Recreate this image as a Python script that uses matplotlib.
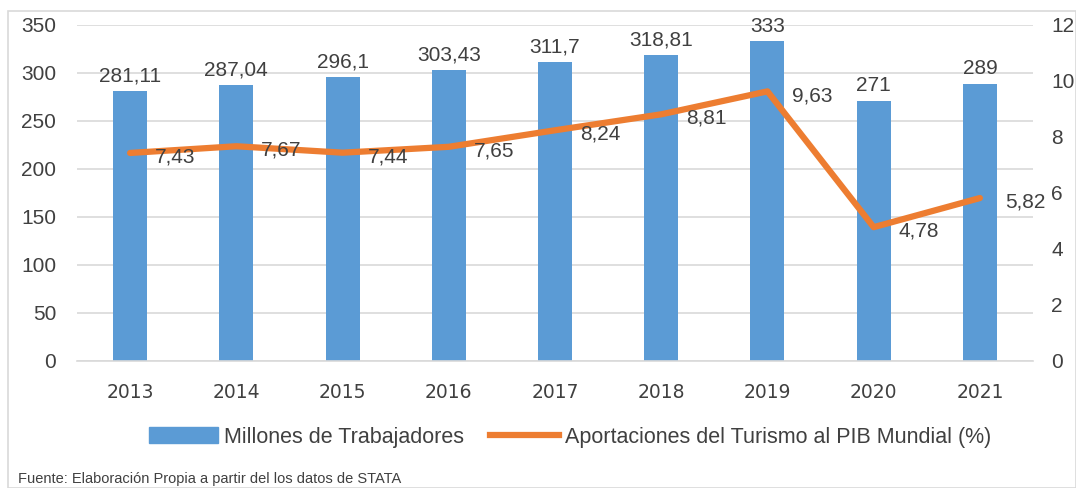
import matplotlib
matplotlib.use("Agg")
import matplotlib.pyplot as plt
from matplotlib import font_manager as fm
from matplotlib.patches import Rectangle
from matplotlib.lines import Line2D

years = ["2013", "2014", "2015", "2016", "2017", "2018", "2019", "2020", "2021"]
workers = [281.11, 287.04, 296.1, 303.43, 311.7, 318.81, 333, 271, 289]
worker_labels = ["281,11", "287,04", "296,1", "303,43", "311,7", "318,81", "333", "271", "289"]
gdp_share = [7.43, 7.67, 7.44, 7.65, 8.24, 8.81, 9.63, 4.78, 5.82]
gdp_labels = ["7,43", "7,67", "7,44", "7,65", "8,24", "8,81", "9,63", "4,78", "5,82"]

names = {f.name for f in fm.fontManager.ttflist}
narrow = "Liberation Sans Narrow" if "Liberation Sans Narrow" in names else "Liberation Sans"
fam = [narrow, "DejaVu Sans"]

BLUE = "#5B9BD5"
ORANGE = "#ED7D31"
TXT = "#404040"

fig = plt.figure(figsize=(10.76, 4.88), dpi=100)
W, H = 1076, 488
ax = fig.add_axes([77 / W, 1 - 361 / H, (1033 - 77) / W, (361 - 25) / H])
ax2 = ax.twinx()

x = list(range(len(years)))
ax.bar(x, workers, width=0.32, color=BLUE, zorder=2)
ax.set_ylim(0, 350)
ax.set_xlim(-0.5, len(years) - 0.5)
ax.set_yticks(range(0, 351, 50))
ax.grid(axis="y", color="#D9D9D9", linewidth=1.2, zorder=0)
ax.set_axisbelow(True)
for s in ["top", "right", "left"]:
    ax.spines[s].set_visible(False)
ax.spines["bottom"].set_color("#D9D9D9")
ax.spines["bottom"].set_linewidth(1.2)
ax.tick_params(axis="both", length=0)
ax.tick_params(axis="y", pad=15)
ax.tick_params(axis="x", pad=16)
ax.set_xticks(x)
ax.set_xticklabels(years, fontsize=13.5, color=TXT, family=["DejaVu Sans"])
for lab in ax.get_yticklabels():
    lab.set_fontsize(15)
    lab.set_color(TXT)
    lab.set_family(fam)

for xi, v, lab in zip(x, workers, worker_labels):
    ax.annotate(lab, (xi, v), xytext=(0, 4), textcoords="offset points",
                ha="center", va="bottom", fontsize=15, color=TXT, family=fam)

ax2.plot(x, gdp_share, color=ORANGE, linewidth=4.5, solid_capstyle="round", zorder=3)
ax2.set_ylim(0, 12)
ax2.set_yticks(range(0, 13, 2))
for s in ["top", "right", "left", "bottom"]:
    ax2.spines[s].set_visible(False)
ax2.tick_params(axis="y", length=0, pad=13)
for lab in ax2.get_yticklabels():
    lab.set_fontsize(15)
    lab.set_color(TXT)
    lab.set_family(fam)

for xi, v, lab in zip(x, gdp_share, gdp_labels):
    ax2.annotate(lab, (xi, v), xytext=(18, -3), textcoords="offset points",
                 ha="left", va="center", fontsize=15, color=TXT, family=fam)

handles = [Rectangle((0, 0), 1, 1, color=BLUE),
           Line2D([0], [0], color=ORANGE, linewidth=4.5)]
fig.legend(handles, ["Millones de Trabajadores", "Aportaciones del Turismo al PIB Mundial (%)"],
           loc="center", bbox_to_anchor=(570 / W, 1 - 437 / H), ncol=2, frameon=False,
           prop={"family": fam, "size": 15.5}, labelcolor=TXT, handlelength=3.2,
           handleheight=0.8, columnspacing=1.2, handletextpad=0.3)

fig.text(18 / W, 1 - 479 / H, "Fuente: Elaboración Propia a partir del los datos de STATA",
         fontsize=10.5, color=TXT, family=fam, va="center", ha="left")

border = Rectangle((8 / W, 0), 1 - 8 / W, 1 - 11 / H, transform=fig.transFigure,
                   fill=False, edgecolor="#D9D9D9", linewidth=1.2)
fig.add_artist(border)

fig.savefig("out.png", dpi=100)
